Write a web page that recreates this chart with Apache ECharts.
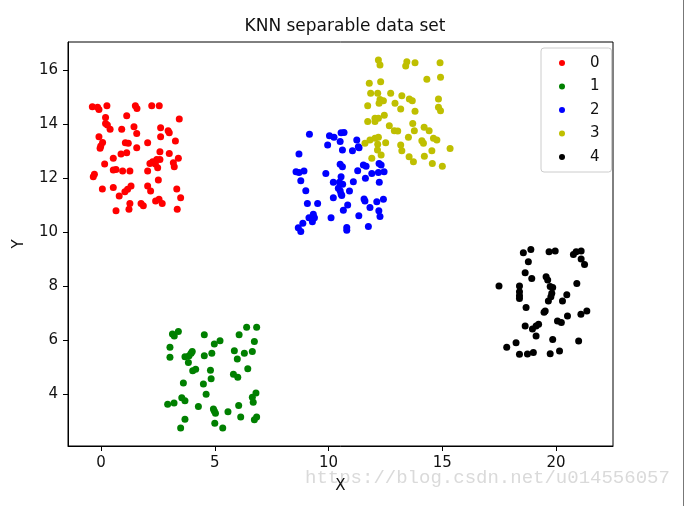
<!DOCTYPE html>
<html><head><meta charset="utf-8">
<script src="https://cdn.jsdelivr.net/npm/echarts@6/dist/echarts.min.js"></script>
<style>html,body{margin:0;padding:0;background:#fff}#c{width:690px;height:506px}</style>
</head><body><div id="c"></div>
<script>
const classNames = ['0','1','2','3','4'];
const classColors = ['#ff0000','#008000','#0000ff','#bfbf00','#000000'];
const xTicks = [0,5,10,15,20];
const yTicks = [4,6,8,10,12,14,16];
const class0 = [[-0.38,14.64],[-0.15,14.62],[-0.09,14.54],[0.26,14.68],[1.51,14.68],[1.58,14.58],[2.23,14.68],[2.56,14.68],[0.2,14.24],[1.13,14.31],[3.44,14.19],[0.2,14.02],[0.28,13.96],[0.4,13.81],[0.91,13.81],[1.45,13.9],[2.62,13.86],[2.95,13.75],[3.0,13.68],[-0.09,13.53],[1.57,13.65],[2.62,13.53],[3.27,13.37],[0.07,13.32],[-0.01,13.19],[-0.04,13.1],[1.07,13.31],[1.2,13.29],[2.05,13.31],[1.57,13.12],[2.59,12.97],[0.88,12.89],[1.13,12.94],[3.0,12.91],[0.54,12.73],[3.4,12.73],[2.45,12.69],[2.59,12.69],[2.27,12.6],[2.15,12.54],[2.39,12.52],[3.18,12.57],[3.22,12.42],[0.16,12.52],[2.49,12.38],[0.54,12.3],[0.66,12.32],[0.95,12.26],[1.27,12.26],[2.05,12.26],[-0.29,12.14],[-0.34,12.05],[2.52,11.93],[0.06,11.59],[0.54,11.65],[1.17,11.58],[1.32,11.7],[1.05,11.49],[0.8,11.33],[2.05,11.7],[2.18,11.52],[3.33,11.59],[3.5,11.27],[1.27,11.06],[1.76,11.06],[1.86,10.97],[2.4,11.15],[2.55,11.21],[2.69,11.06],[0.66,10.79],[1.23,10.84],[3.35,10.84]];
const class1 = [[3.14,6.22],[3.22,6.15],[3.4,6.31],[4.54,6.19],[6.07,6.19],[6.4,6.47],[6.84,6.47],[3.03,5.73],[4.98,5.85],[5.23,5.97],[6.74,5.94],[3.03,5.36],[3.69,5.38],[3.87,5.41],[3.96,5.51],[4.01,5.57],[3.84,5.16],[4.54,5.41],[4.87,5.51],[5.86,5.6],[6.3,5.51],[6.65,5.57],[5.99,5.29],[4.03,4.86],[4.16,4.91],[4.81,4.88],[6.45,4.93],[3.62,4.4],[4.5,4.37],[4.84,4.56],[5.82,4.73],[6.01,4.62],[4.62,3.99],[3.55,3.86],[3.69,3.75],[2.93,3.62],[3.21,3.66],[4.28,3.53],[6.81,4.03],[6.65,3.88],[6.69,3.69],[4.94,3.44],[4.98,3.37],[5.03,3.28],[5.58,3.34],[6.05,3.57],[3.69,3.06],[3.5,2.74],[5.0,2.91],[5.35,2.74],[6.14,3.14],[6.74,3.04],[6.84,3.14]];
const class2 = [[9.16,13.62],[10.04,13.57],[10.24,13.51],[10.55,13.68],[10.68,13.69],[10.51,13.35],[9.96,13.22],[10.61,13.04],[11.05,13.01],[11.34,13.12],[11.24,13.41],[11.31,13.16],[8.7,12.89],[10.51,12.51],[10.61,12.42],[11.53,12.48],[11.65,12.44],[12.22,12.54],[12.31,12.48],[11.28,12.27],[11.9,12.17],[12.19,12.2],[12.44,12.23],[8.57,12.23],[8.7,12.2],[8.92,12.26],[8.78,11.9],[9.88,12.17],[10.55,12.05],[10.21,11.84],[10.48,11.84],[10.62,11.77],[11.09,11.86],[11.62,11.99],[12.23,11.84],[9.0,11.53],[10.43,11.62],[10.51,11.53],[10.55,11.41],[10.92,11.52],[10.21,11.27],[10.58,11.35],[11.56,11.22],[11.6,11.15],[12.12,11.12],[12.41,11.21],[9.07,11.06],[9.52,11.06],[11.82,10.91],[10.84,11.0],[10.65,10.81],[12.21,10.79],[12.26,10.57],[10.11,10.53],[11.33,10.6],[9.33,10.66],[9.38,10.53],[9.14,10.53],[9.29,10.38],[8.87,10.32],[8.67,10.16],[8.78,10.02],[10.8,10.17],[10.8,10.06],[11.75,10.2]];
const class3 = [[12.19,16.37],[12.26,16.19],[13.44,16.31],[13.39,16.15],[13.8,16.27],[14.9,16.27],[11.79,15.51],[12.29,15.57],[14.32,15.66],[14.92,15.73],[11.85,15.14],[12.16,15.14],[12.26,14.91],[12.41,14.86],[12.22,14.77],[12.73,15.14],[13.22,15.05],[13.55,14.93],[13.68,14.86],[12.92,14.77],[13.17,14.56],[14.83,14.93],[14.83,14.62],[14.92,14.49],[11.72,14.68],[13.8,14.47],[12.04,14.21],[12.19,14.21],[12.45,14.33],[11.72,14.09],[12.04,14.09],[12.67,13.94],[12.89,13.75],[13.04,13.74],[13.7,14.02],[13.77,13.75],[14.2,13.88],[14.42,13.75],[13.51,13.51],[14.1,13.38],[14.61,13.47],[14.76,13.41],[15.34,13.09],[11.82,13.41],[12.04,13.47],[12.19,13.51],[12.16,13.25],[12.51,13.31],[11.6,13.29],[13.17,13.22],[13.22,13.01],[14.17,13.29],[14.54,13.01],[12.15,13.04],[12.31,12.85],[11.9,12.73],[13.54,12.79],[13.73,12.6],[14.21,12.81],[14.56,12.54],[15.0,12.44]];
const class4 = [[18.56,9.23],[18.89,9.35],[19.69,9.27],[19.96,9.3],[20.76,9.17],[20.88,9.27],[21.1,9.3],[21.1,9.0],[21.25,8.8],[18.78,8.9],[18.64,8.49],[18.93,8.28],[19.56,8.34],[19.63,8.22],[20.91,8.09],[17.49,8.0],[18.39,8.0],[18.39,7.79],[18.39,7.64],[18.39,7.54],[19.74,7.98],[19.85,7.94],[19.81,7.73],[19.77,7.6],[19.66,7.44],[20.47,7.67],[20.28,7.44],[18.68,7.2],[19.47,7.03],[19.52,7.07],[20.5,6.89],[21.09,6.95],[21.35,7.07],[18.64,6.52],[18.96,6.41],[19.12,6.52],[19.23,6.58],[20.06,6.7],[20.23,6.65],[19.12,6.15],[19.85,6.02],[20.99,5.96],[18.24,5.9],[17.83,5.73],[18.39,5.47],[18.74,5.48],[19.0,5.53],[19.74,5.49],[20.15,5.59]];
const classData = [class0, class1, class2, class3, class4];

const FONT = 'DejaVu Sans';
const chart = echarts.init(document.getElementById('c'), null, {renderer:'canvas'});
chart.setOption({
  animation: false,
  backgroundColor: '#fff',
  title: {text: 'KNN separable data set', left: 'center', top: 13,
    textStyle: {fontFamily: FONT, fontSize: 17, fontWeight: 'normal', color: '#111'}},
  grid: {left: 68, right: 77, top: 42, bottom: 60, show: true, borderColor: '#000', borderWidth: 1, backgroundColor: 'transparent'},
  legend: {
    orient: 'vertical', left: 541, top: 48, width: 70,
    data: classNames,
    itemWidth: 6, itemHeight: 6, itemGap: 7.5,
    padding: [7, 12, 7, 18],
    borderColor: '#cccccc', borderWidth: 1, borderRadius: 3,
    backgroundColor: 'rgba(255,255,255,0.8)',
    textStyle: {fontFamily: FONT, fontSize: 15, color: '#111', lineHeight: 16, padding: [0,0,0,20]}
  },
  xAxis: {
    type: 'value', min: -1.45, max: 22.5,
    name: 'X', nameLocation: 'middle', nameGap: 33,
    nameTextStyle: {fontFamily: FONT, fontSize: 15, color: '#111'},
    axisLine: {show: true, onZero: false, lineStyle: {color: '#000', width: 1}},
    axisTick: {show: true, length: 5, customValues: xTicks, lineStyle: {color: '#000'}},
    axisLabel: {customValues: xTicks, margin: 10, fontFamily: FONT, fontSize: 15, color: '#111'},
    splitLine: {show: false}
  },
  yAxis: {
    type: 'value', min: 2.07, max: 17.04,
    name: 'Y', nameLocation: 'middle', nameGap: 41,
    nameTextStyle: {fontFamily: FONT, fontSize: 15, color: '#111'},
    axisLine: {show: true, onZero: false, lineStyle: {color: '#000', width: 1}},
    axisTick: {show: true, length: 5, customValues: yTicks, lineStyle: {color: '#000'}},
    axisLabel: {customValues: yTicks, margin: 10, fontFamily: FONT, fontSize: 15, color: '#111'},
    splitLine: {show: false}
  },
  series: classNames.map((n, i) => ({
    name: n, type: 'scatter', data: classData[i], symbol: 'circle', symbolSize: 7,
    itemStyle: {color: classColors[i], opacity: 1}
  })),
  graphic: [
    {type: 'text', left: 305, top: 468, silent: true,
      style: {text: 'https://blog.csdn.net/u014556057', font: '19px "Liberation Mono"', fill: '#dadada'}},
    {type: 'line', shape: {x1: 683.5, y1: 0, x2: 683.5, y2: 506}, style: {stroke: '#777', lineWidth: 1}}
  ]
});
</script></body></html>
